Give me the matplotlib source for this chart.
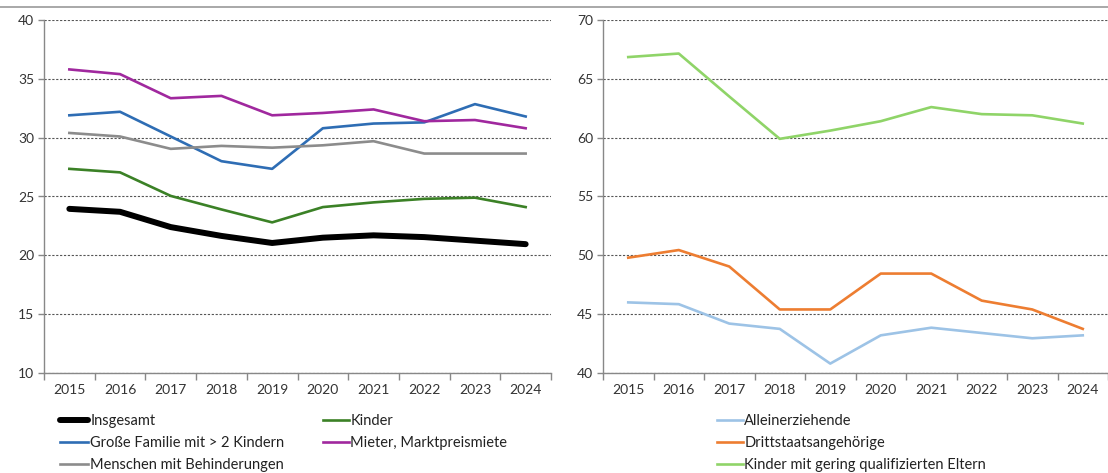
import matplotlib
matplotlib.use("Agg")
import matplotlib.pyplot as plt
from matplotlib.lines import Line2D
import numpy as np

years = ["2015", "2016", "2017", "2018", "2019", "2020", "2021", "2022", "2023", "2024"]

insgesamt = [23.95, 23.7, 22.4, 21.65, 21.05, 21.5, 21.7, 21.55, 21.25, 20.95]
kinder = [27.35, 27.05, 25.05, 23.9, 22.8, 24.1, 24.5, 24.8, 24.9, 24.1]
grosse_familie = [31.9, 32.2, 30.1, 28.0, 27.35, 30.8, 31.2, 31.3, 32.85, 31.8]
mieter = [35.8, 35.4, 33.35, 33.55, 31.9, 32.1, 32.4, 31.4, 31.5, 30.8]
behinderung = [30.4, 30.1, 29.05, 29.3, 29.15, 29.35, 29.7, 28.65, 28.65, 28.65]

alleinerziehende = [46.0, 45.85, 44.2, 43.75, 40.8, 43.2, 43.85, 43.4, 42.95, 43.2]
drittstaat = [49.8, 50.45, 49.05, 45.4, 45.4, 48.45, 48.45, 46.15, 45.4, 43.75]
gering_qual = [66.85, 67.15, 63.5, 59.9, 60.6, 61.4, 62.6, 62.0, 61.9, 61.2]

plt.rcParams['font.family'] = ['Lato', 'DejaVu Sans']

fig = plt.figure(figsize=(11.08, 4.73), dpi=100)
W, H = 1108, 473

def fx(px):
    return px / W

def fy(py):
    return 1 - py / H

axL = fig.add_axes([fx(44), fy(373), fx(551 - 44), fy(20) - fy(373)])
axR = fig.add_axes([fx(603), fy(373), fx(1108 - 603), fy(20) - fy(373)])

x = np.arange(len(years))

def style(ax, ylim, yticks):
    ax.set_xlim(-0.5, len(years) - 0.5)
    ax.set_ylim(*ylim)
    ax.set_yticks(yticks)
    ax.set_xticks(x)
    ax.set_xticklabels(years)
    ax.set_xticks(np.arange(-0.5, len(years) + 0.5, 1), minor=True)
    ax.tick_params(axis='x', which='major', length=0, pad=8, labelsize=10, colors='#333333')
    ax.tick_params(axis='x', which='minor', length=5, width=1, color='#888888', direction='out')
    ax.tick_params(axis='y', which='major', length=4, width=1, color='#888888', direction='out',
                   labelsize=10, labelcolor='#333333', pad=3)
    for s in ['top', 'right']:
        ax.spines[s].set_visible(False)
    for s in ['left', 'bottom']:
        ax.spines[s].set_color('#888888')
        ax.spines[s].set_linewidth(1.0)
    ax.yaxis.grid(True, linestyle=(0, (2.0, 1.5)), linewidth=0.8, color='#555555')
    ax.set_axisbelow(True)
    ax.patch.set_alpha(0)

style(axL, (10, 40), [10, 15, 20, 25, 30, 35, 40])
style(axR, (40, 70), [40, 45, 50, 55, 60, 65, 70])

lw = 1.9
hI, = axL.plot(x, insgesamt, color='#000000', lw=4.3, solid_capstyle='round', label='Insgesamt', zorder=5)
hK, = axL.plot(x, kinder, color='#3B8126', lw=lw, label='Kinder')
hG, = axL.plot(x, grosse_familie, color='#2E6DB4', lw=lw, label='Große Familie mit > 2 Kindern')
hM, = axL.plot(x, mieter, color='#A0289E', lw=lw, label='Mieter, Marktpreismiete')
hB, = axL.plot(x, behinderung, color='#8C8C8C', lw=lw, label='Menschen mit Behinderungen')

hA, = axR.plot(x, alleinerziehende, color='#9DC3E6', lw=lw, label='Alleinerziehende')
hD, = axR.plot(x, drittstaat, color='#ED7D31', lw=lw, label='Drittstaatsangehörige')
hQ, = axR.plot(x, gering_qual, color='#8FD468', lw=lw, label='Kinder mit gering qualifizierten Eltern')

leg_kw = dict(frameon=False, loc='upper left', borderaxespad=0, borderpad=0,
              handletextpad=0.12, labelspacing=0.55,
              fontsize=10.5, labelcolor='#222222')

fig.legend(handles=[hI, hG, hB], bbox_to_anchor=(fx(60), fy(414)), handlelength=1.95, **leg_kw)
fig.legend(handles=[hK, hM], bbox_to_anchor=(fx(323), fy(414)), handlelength=1.75, **leg_kw)
fig.legend(handles=[hA, hD, hQ], bbox_to_anchor=(fx(717), fy(414)), handlelength=1.75, **leg_kw)

fig.add_artist(Line2D([0, 1], [fy(7), fy(7)], color='#999999', lw=1.2, transform=fig.transFigure))

fig.savefig('out.png', dpi=100, facecolor='white')
